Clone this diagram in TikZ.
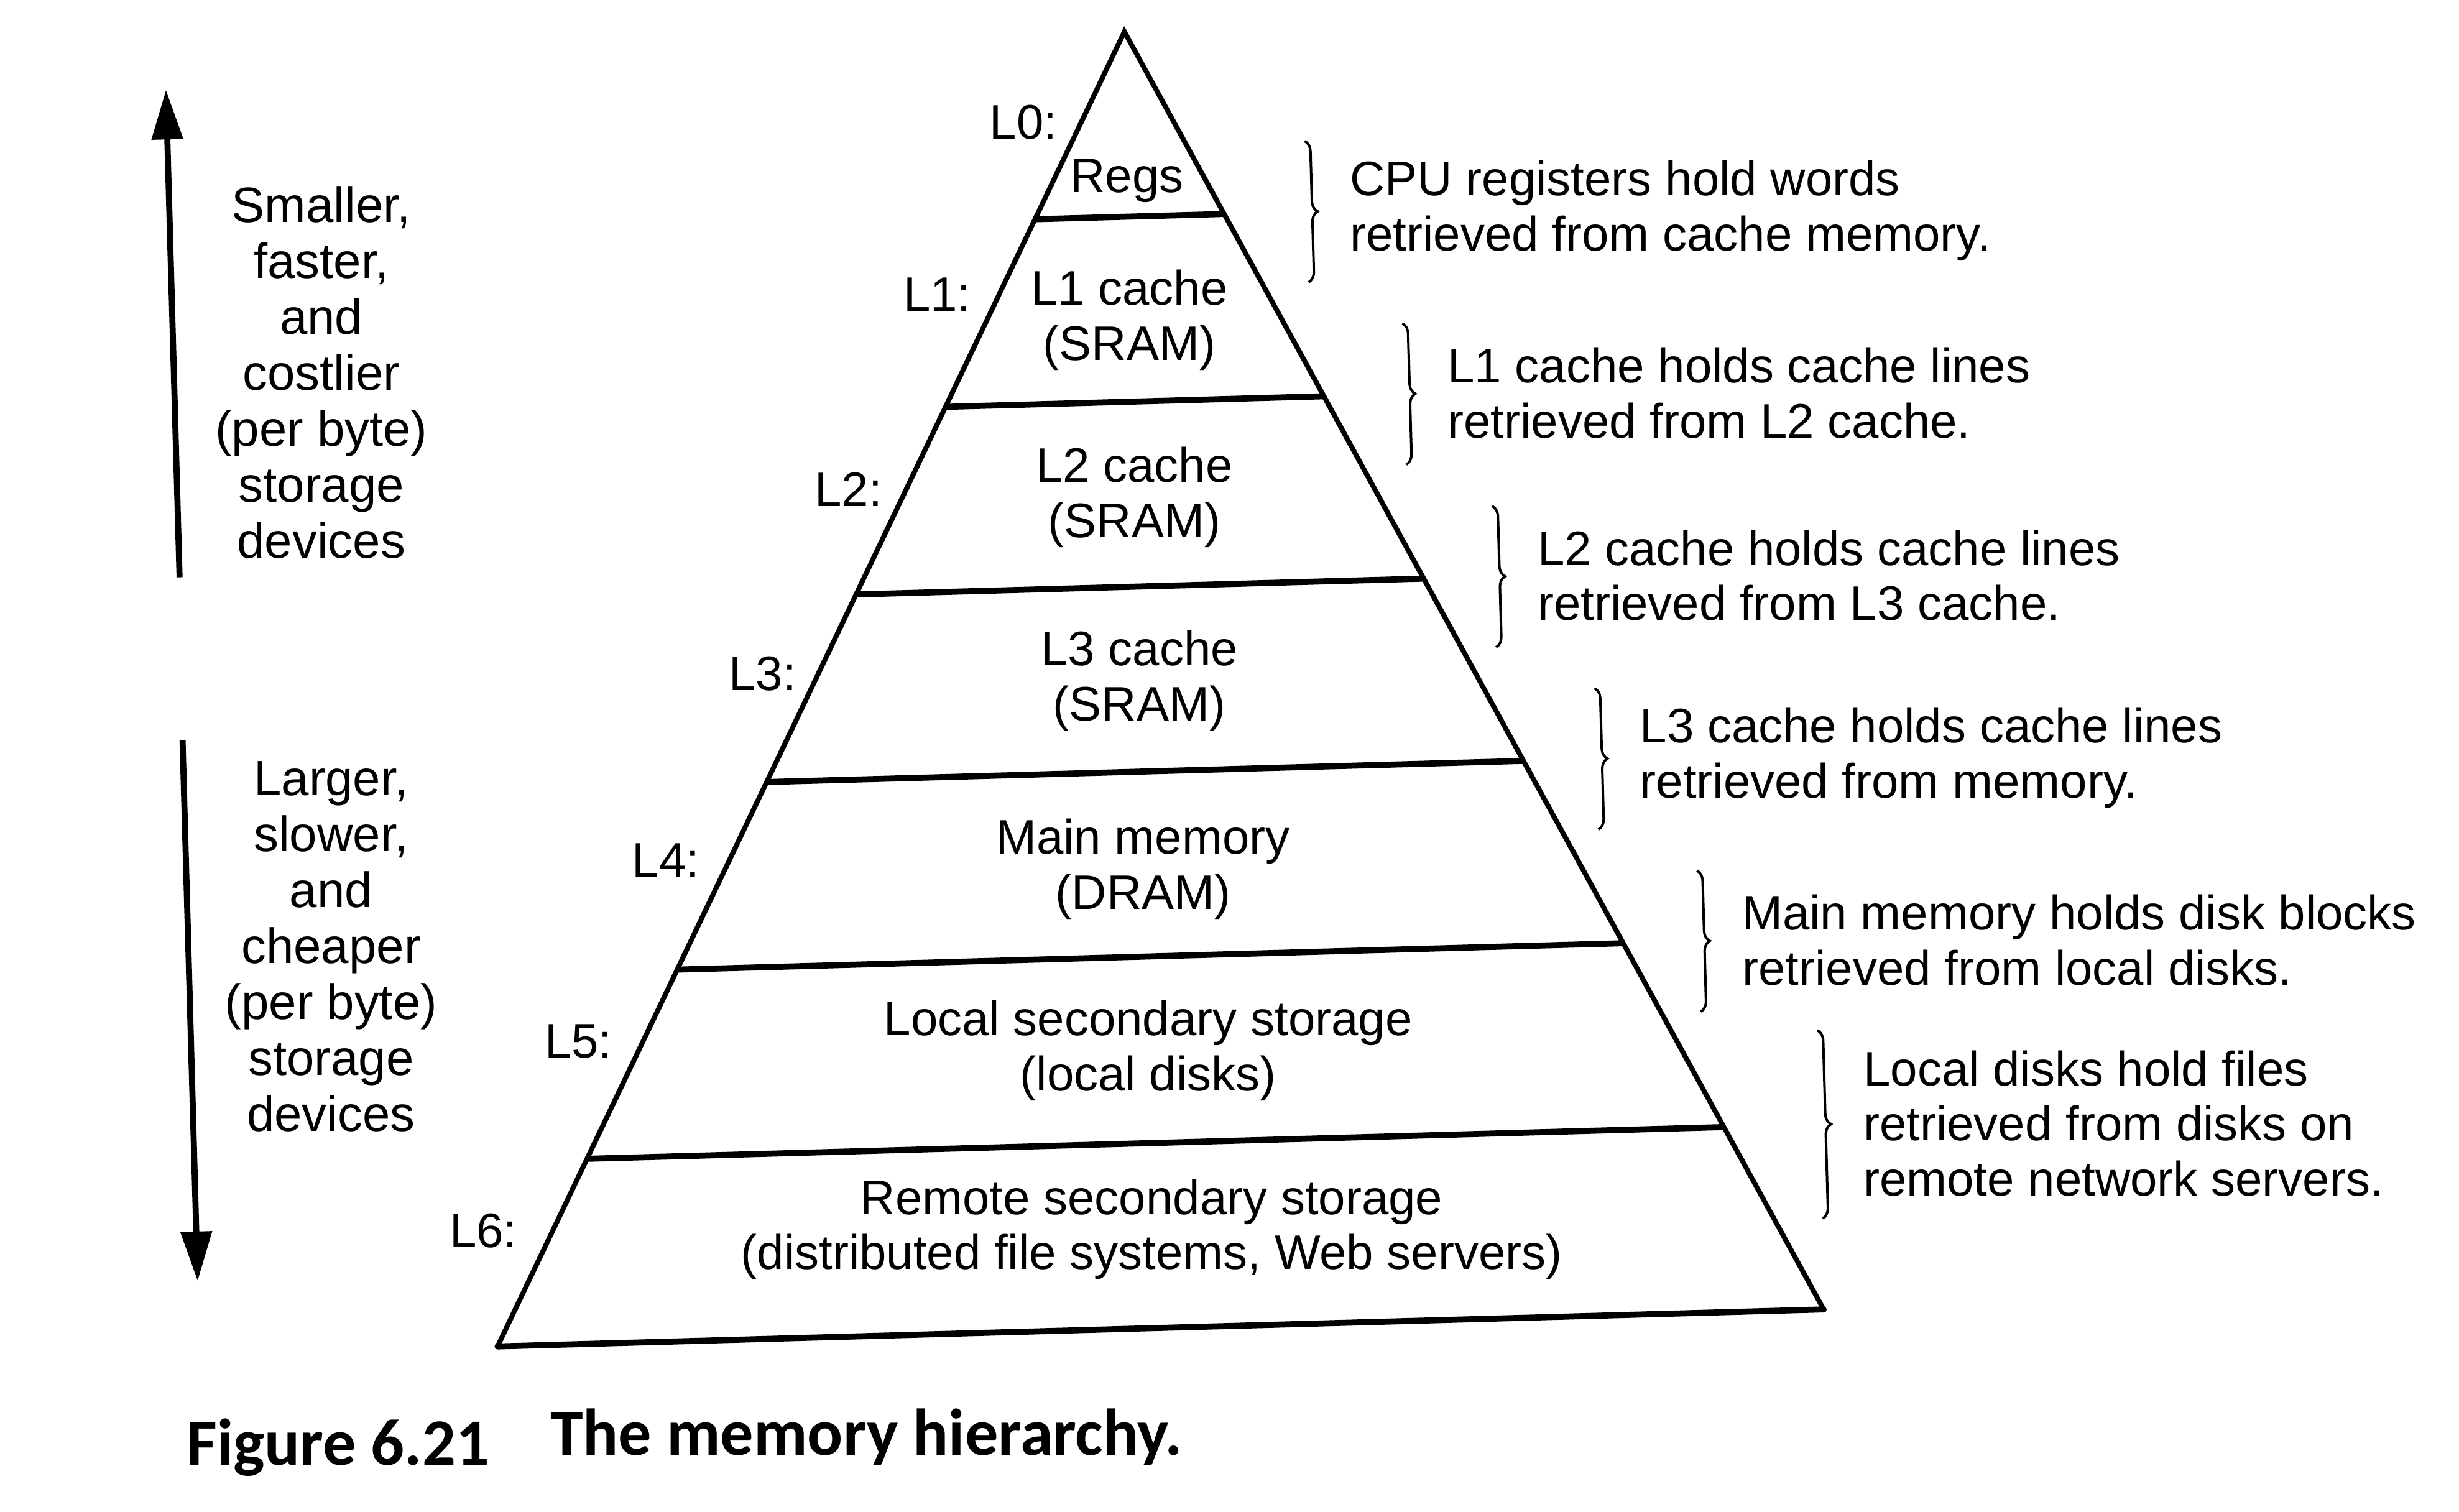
\documentclass[tikz,border=0pt]{standalone}
\usepackage{fontspec}
\setmainfont{Liberation Sans}
\newfontfamily\capfont{Carlito}
\usetikzlibrary{calc,arrows.meta,decorations.pathreplacing}
\begin{document}
\begin{tikzpicture}[x=0.1mm,y=-0.1mm,
  every node/.style={font=\fontsize{8.8}{10}\selectfont, inner sep=0pt},
  blk/.style={align=center},
  lvl/.style={},
  note/.style={align=left, anchor=west},
  side/.style={align=center, font=\fontsize{9}{10.15}\selectfont},
  caption/.style={anchor=base west, font=\capfont\bfseries\fontsize{12}{14}\selectfont},
  edge/.style={line width=0.9pt, line join=miter},
  sep/.style={line width=1.1pt},
  brc/.style={decorate, decoration={brace, amplitude=0.7mm}, line width=0.45pt},
  arr/.style={line width=1.1pt, -{Triangle[length=9pt,width=5.5pt]}},
]
\useasboundingbox[fill=white] (0,0) rectangle (1568,964);
\begin{scope}[rotate around={1.6:(730,450)}]
% pyramid
\coordinate (apex) at (729,20);
\coordinate (bl) at (306,847);
\coordinate (br) at (1152,847);
\foreach \i/\t in {0/0.14268,1/0.28537,2/0.42805,3/0.57074,4/0.71342,5/0.85732}{
  \coordinate (l\i) at ($(apex)!\t!(bl)$);
  \coordinate (r\i) at ($(apex)!\t!(br)$);
  \draw[sep] (l\i) -- (r\i);
}
\draw[edge] (bl) -- (apex) -- (br);
\draw[sep, line cap=round] (bl) -- (br);
% texts inside
\node[blk] (regs) at (728,115) {Regs};
\node[blk] (c1) at (727,204) {L1 cache\\(SRAM)};
\node[blk] (c2) at (727,317) {L2 cache\\(SRAM)};
\node[blk] (c3) at (727,434) {L3 cache\\(SRAM)};
\node[blk] (mm) at (726,554) {Main memory\\(DRAM)};
\node[blk] (ls) at (726,670) {Local secondary storage\\(local disks)};
\node[blk] (rs) at (725,784) {Remote secondary storage\\(distributed file systems, Web servers)};
% level labels
\node[lvl] (n0) at (663,76) {L0:};
\node[lvl] (n1) at (605,184) {L1:};
\node[lvl] (n2) at (545,307) {L2:};
\node[lvl] (n3) at (487,423) {L3:};
\node[lvl] (n4) at (422,540) {L4:};
\node[lvl] (n5) at (363,654) {L5:};
\node[lvl] (n6) at (299,773) {L6:};
% braces
\coordinate (b0t) at (842,93);   \coordinate (b0b) at (842,183);
\coordinate (b1t) at (901,211);  \coordinate (b1b) at (901,301);
\coordinate (b2t) at (955,329);  \coordinate (b2b) at (955,419);
\coordinate (b3t) at (1017,447); \coordinate (b3b) at (1017,537);
\coordinate (b4t) at (1079,565); \coordinate (b4b) at (1079,655);
\coordinate (b5t) at (1153,669); \coordinate (b5b) at (1153,789);
\foreach \i in {0,...,5}{\draw[brc] (b\i t) -- (b\i b);}
\node[note] (t0) at (869,138) {CPU registers hold words\\retrieved from cache memory.};
\node[note] (t1) at (928,256) {L1 cache holds cache lines\\retrieved from L2 cache.};
\node[note] (t2) at (982,374) {L2 cache holds cache lines\\retrieved from L3 cache.};
\node[note] (t3) at (1044,492) {L3 cache holds cache lines\\retrieved from memory.};
\node[note] (t4) at (1106,610) {Main memory holds disk blocks\\retrieved from local disks.};
\node[note] (t5) at (1180,729) {Local disks hold files\\retrieved from disks on\\remote network servers.};
% left side
\node[side] (up) at (211,223) {Smaller,\\faster,\\and\\costlier\\(per byte)\\storage\\devices};
\node[side] (down) at (207,589) {Larger,\\slower,\\and\\cheaper\\(per byte)\\storage\\devices};
\coordinate (ua) at (117,351); \coordinate (ub) at (117,40);
\draw[arr] (ua) -- (ub);
\coordinate (da) at (116,455); \coordinate (db) at (116,800);
\draw[arr] (da) -- (db);
% caption
\node[caption] (fig) at (105,917) {Figure 6.21};
\node[caption] (title) at (337,917) {The memory hierarchy.};
\end{scope}
\end{tikzpicture}
\end{document}
